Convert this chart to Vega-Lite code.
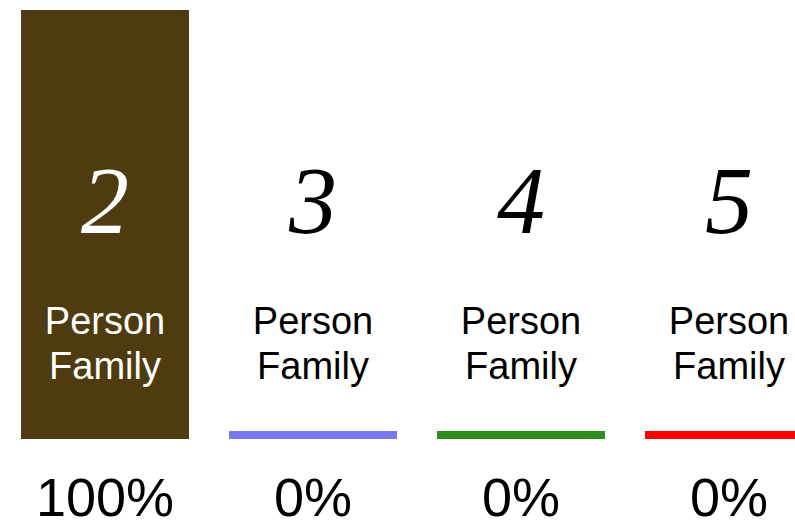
{
  "$schema": "https://vega.github.io/schema/vega-lite/v6.json",
  "width": 795,
  "height": 429,
  "autosize": "none",
  "padding": {"top": 10, "left": 0, "right": 0, "bottom": 87},
  "background": "white",
  "config": {"view": {"stroke": null}},
  "data": {"values": [
    {"family": "2", "label": "Person Family", "share": 1},
    {"family": "3", "label": "Person Family", "share": 0},
    {"family": "4", "label": "Person Family", "share": 0},
    {"family": "5", "label": "Person Family", "share": 0}
  ]},
  "encoding": {
    "x": {"field": "family", "type": "nominal", "axis": null,
      "scale": {"range": [1, 833], "paddingInner": 0.1923, "paddingOuter": 0.0962}}
  },
  "layer": [
    {
      "mark": {"type": "tick", "orient": "horizontal", "size": 168, "thickness": 8, "yOffset": -4, "opacity": 1},
      "encoding": {
        "y": {"datum": 0, "type": "quantitative", "scale": {"domain": [0, 1]}, "axis": null},
        "color": {"field": "family", "type": "nominal", "legend": null,
          "scale": {"domain": ["2", "3", "4", "5"], "range": ["#4e3b10", "#7676ee", "#2e8e1c", "#ff0000"]}}
      }
    },
    {
      "mark": {"type": "bar"},
      "encoding": {
        "y": {"field": "share", "type": "quantitative", "scale": {"domain": [0, 1]}, "axis": null},
        "color": {"field": "family", "type": "nominal", "legend": null}
      }
    },
    {
      "mark": {"type": "text", "font": "Liberation Serif", "fontStyle": "italic", "fontSize": 96, "baseline": "alphabetic", "align": "center"},
      "encoding": {
        "y": {"datum": 0.48, "type": "quantitative"},
        "text": {"field": "family"},
        "color": {"condition": {"test": "datum.share >= 1", "value": "white"}, "value": "black"}
      }
    },
    {
      "mark": {"type": "text", "font": "Liberation Sans", "fontSize": 38, "letterSpacing": 1.5, "lineHeight": 45, "lineBreak": " ", "baseline": "alphabetic", "align": "center"},
      "encoding": {
        "y": {"datum": 0.245, "type": "quantitative"},
        "text": {"field": "label"},
        "color": {"condition": {"test": "datum.share >= 1", "value": "white"}, "value": "black"}
      }
    },
    {
      "mark": {"type": "text", "font": "Liberation Sans", "fontSize": 54, "baseline": "alphabetic", "align": "center", "color": "black"},
      "encoding": {
        "y": {"datum": -0.179, "type": "quantitative"},
        "text": {"field": "share", "format": ".0%"}
      }
    }
  ]
}
